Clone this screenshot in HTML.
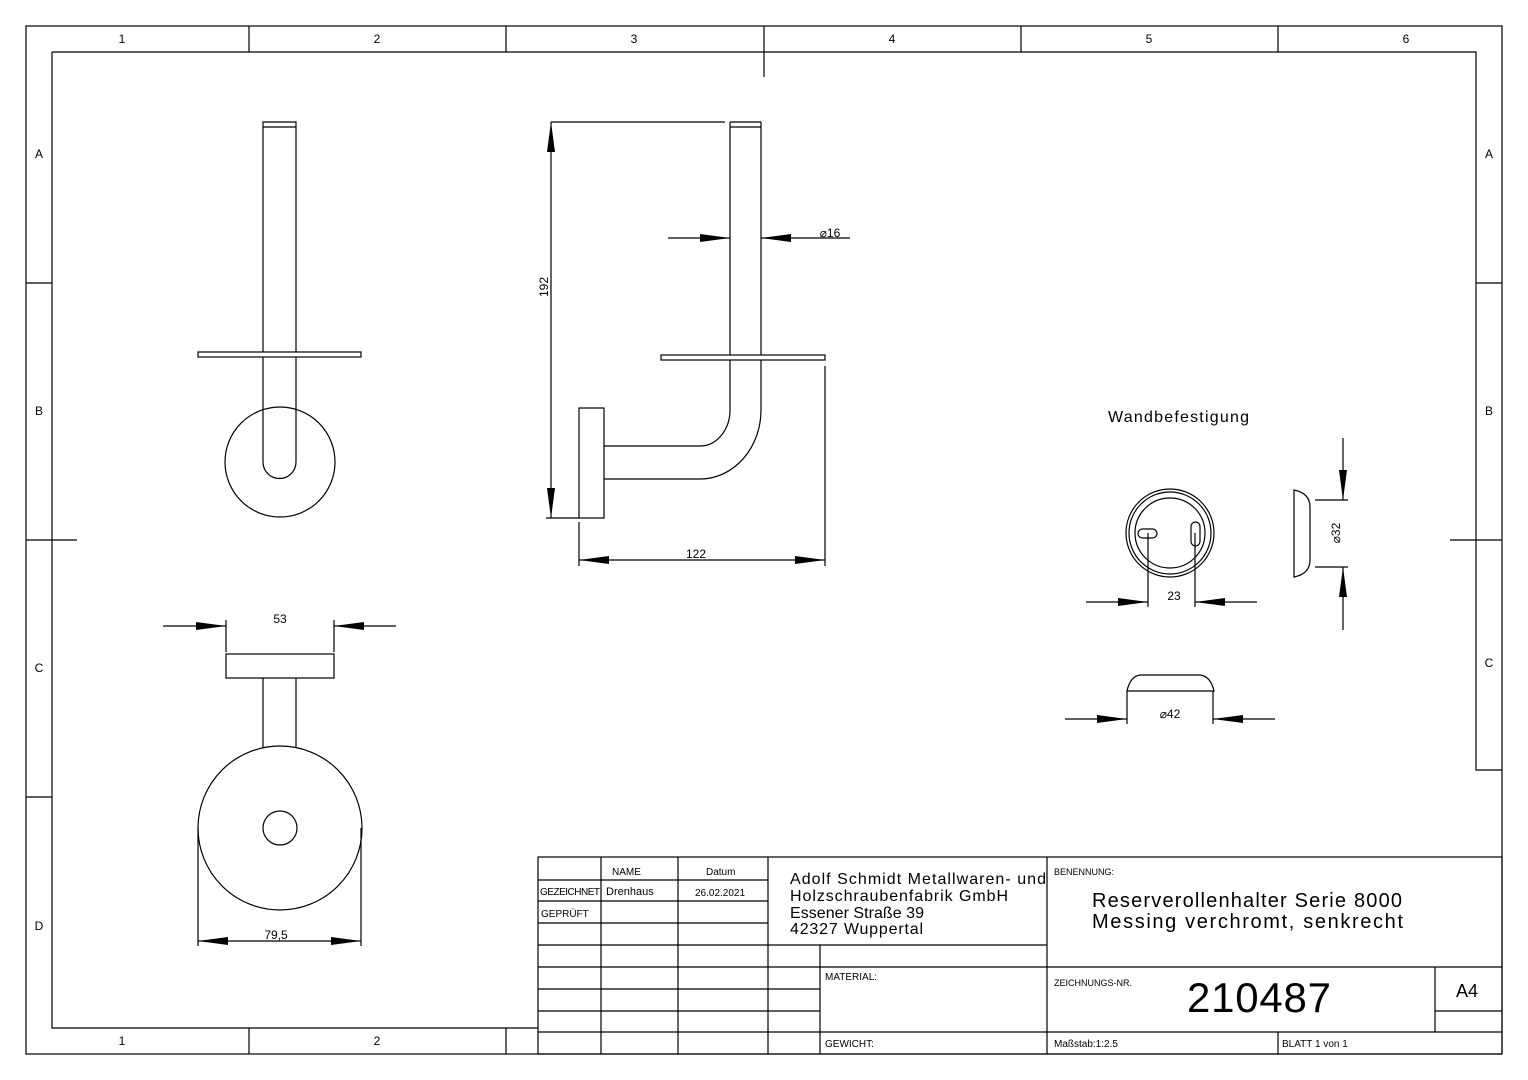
<!DOCTYPE html>
<html><head><meta charset="utf-8"><style>
html,body{margin:0;padding:0;background:#fff}
svg{display:block}
text{font-family:"Liberation Sans","DejaVu Sans",sans-serif;fill:#000}
</style></head><body>
<svg width="1528" height="1080" viewBox="0 0 1528 1080" xmlns="http://www.w3.org/2000/svg">
<defs>
<marker id="a" viewBox="0 0 30 10" refX="30" refY="5" markerWidth="30" markerHeight="10" markerUnits="userSpaceOnUse" orient="auto"><path d="M0,1 L30,5 L0,9 Z" fill="#000"/></marker>
</defs>
<g fill="none" stroke="#000" stroke-width="1.2">
<rect x="26" y="26" width="1476" height="1028"/>
<path d="M52,52 H1476 V770 H1502 M52,52 V1028 H538"/>
<path d="M249,26V52 M506,26V52 M764,26V77 M1021,26V52 M1278,26V52"/>
<path d="M249,1028V1054 M506,1028V1054"/>
<path d="M26,283H52 M26,540H77 M26,797H52 M1476,283H1502 M1450,540H1502"/>
</g>
<g font-size="12" text-anchor="middle">
<text x="122" y="43">1</text><text x="377" y="43">2</text><text x="634" y="43">3</text><text x="892" y="43">4</text><text x="1149" y="43">5</text><text x="1406" y="43">6</text>
<text x="122" y="1045">1</text><text x="377" y="1045">2</text>
<text x="39" y="158">A</text><text x="39" y="415">B</text><text x="39" y="672">C</text><text x="39" y="930">D</text>
<text x="1489" y="158">A</text><text x="1489" y="415">B</text><text x="1489" y="667">C</text>
</g>
<!-- title block -->
<g fill="none" stroke="#000" stroke-width="1.2">
<rect x="538" y="857" width="964" height="197"/>
<path d="M538,880H768 M538,901H768 M538,923H768 M538,945H1047 M538,967H1502 M538,989H820 M538,1011H820 M1435,1011H1502 M538,1032H1502"/>
<path d="M601,857V1054 M678,857V1054 M768,857V1054 M820,945V1054 M1047,857V1054 M1278,1032V1054 M1435,967V1032"/>
</g>
<g font-size="10">
<text x="612" y="875">NAME</text><text x="706" y="875">Datum</text>
<text x="540" y="895" textLength="60">GEZEICHNET</text><text x="606" y="895" font-size="11">Drenhaus</text><text x="695" y="896">26.02.2021</text>
<text x="541" y="917">GEPRÜFT</text>
<text x="1054" y="875" font-size="9">BENENNUNG:</text>
<text x="825" y="980">MATERIAL:</text>
<text x="1054" y="986" font-size="9">ZEICHNUNGS-NR.</text>
<text x="825" y="1047">GEWICHT:</text>
<text x="1054" y="1047">Maßstab:1:2.5</text>
<text x="1282" y="1047">BLATT 1 von 1</text>
</g>
<g font-size="16">
<text x="790" y="884" textLength="256">Adolf Schmidt Metallwaren- und</text>
<text x="790" y="901" textLength="218">Holzschraubenfabrik GmbH</text>
<text x="790" y="918" textLength="134">Essener Straße 39</text>
<text x="790" y="934" textLength="133">42327 Wuppertal</text>
</g>
<text x="1092" y="907" font-size="20" textLength="310">Reserverollenhalter Serie 8000</text>
<text x="1092" y="928" font-size="20" textLength="311">Messing verchromt, senkrecht</text>
<text x="1187" y="1012" font-size="42" textLength="144">210487</text>
<text x="1456" y="997" font-size="18">A4</text>
<!-- drawings -->
<g fill="none" stroke="#000" stroke-width="1.2">
<path d="M263,122 H296 V462 A16.5,16.5 0 0 1 263,462 Z M263,127H296"/>
<rect x="198" y="352" width="163" height="5" fill="#fff"/>
<circle cx="280" cy="462" r="55"/>
<path d="M730,122H761 M730,127H761 M730,122V410 A30,36 0 0 1 700,446 H604 M761,122V410 A61,69 0 0 1 700,479 H604"/>
<rect x="661" y="355" width="164" height="5" fill="#fff"/>
<rect x="579" y="408" width="25" height="110"/>
<path d="M551,122H725 M546,518H579 M579,522V566 M825,366V566"/>
<path d="M551,300V122" marker-end="url(#a)"/><path d="M551,300V518" marker-end="url(#a)"/>
<path d="M700,560H579" marker-end="url(#a)"/><path d="M700,560H825" marker-end="url(#a)"/>
<path d="M668,238H730" marker-end="url(#a)"/><path d="M850,238H761" marker-end="url(#a)"/>
<rect x="226" y="654" width="108" height="24"/>
<path d="M263,678V748 M296,678V748"/>
<circle cx="280" cy="828" r="82"/><circle cx="280" cy="828" r="17"/>
<path d="M226,620V652 M334,620V652"/>
<path d="M163,626H226" marker-end="url(#a)"/><path d="M396,626H334" marker-end="url(#a)"/>
<path d="M198,828V946 M361,828V946"/>
<path d="M280,941H198" marker-end="url(#a)"/><path d="M280,941H361" marker-end="url(#a)"/>
<circle cx="1170" cy="533" r="44"/><circle cx="1170" cy="533" r="41"/><circle cx="1170" cy="533" r="35"/>
<rect x="1138" y="529" width="19" height="9" rx="4.5"/>
<rect x="1191" y="522" width="9" height="24" rx="4.5"/>
<path d="M1148,533V607 M1195,533V607"/>
<path d="M1086,602H1148" marker-end="url(#a)"/><path d="M1257,602H1195" marker-end="url(#a)"/>
<path d="M1294,490 V577 C1304,575 1310,570 1310,560 V507 C1310,497 1304,492 1294,490 Z"/>
<path d="M1315,500H1348 M1315,567H1348"/>
<path d="M1343,438V500" marker-end="url(#a)"/><path d="M1343,630V567" marker-end="url(#a)"/>
<path d="M1127,691 C1129,682 1133,676 1140,675 H1200 C1208,676 1212,682 1214,691 Z"/>
<path d="M1127,691V724 M1213,691V724"/>
<path d="M1065,719H1127" marker-end="url(#a)"/><path d="M1275,719H1213" marker-end="url(#a)"/>
</g>
<g font-size="12" text-anchor="middle">
<text x="548" y="287" transform="rotate(-90 548 287)">192</text>
<text x="696" y="558">122</text>
<text x="830" y="237">⌀16</text>
<text x="280" y="623">53</text>
<text x="276" y="939">79,5</text>
<text x="1174" y="600">23</text>
<text x="1170" y="718">⌀42</text>
<text x="1340" y="533" transform="rotate(-90 1340 533)">⌀32</text>
</g>
<text x="1108" y="422" font-size="16" textLength="141">Wandbefestigung</text>
</svg>
</body></html>
